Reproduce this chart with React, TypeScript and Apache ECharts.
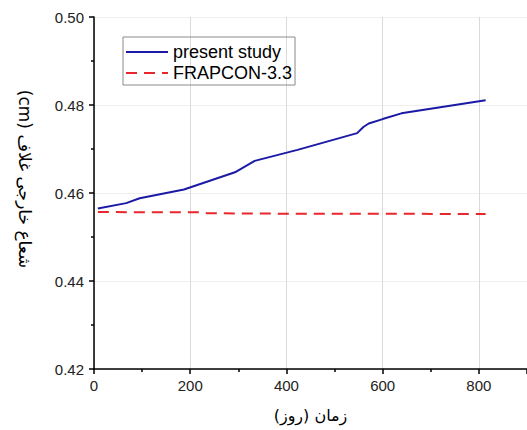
import React, { useEffect, useRef } from "react";
import * as echarts from "echarts";

// Day values and outer cladding radius (cm)
const presentDays = [8, 67, 95, 187, 293, 334, 423, 547, 560, 571, 600, 639, 814];
const presentRadius = [0.4565, 0.4577, 0.4588, 0.4608, 0.4647, 0.4673, 0.4698, 0.4736, 0.4750, 0.4758, 0.4768, 0.4781, 0.4811];

const frapconDays = [8, 100, 218, 235, 400, 600, 814];
const frapconRadius = [0.4557, 0.4556, 0.4556, 0.4554, 0.4553, 0.4553, 0.4552];

const seriesNames = ["present study", "FRAPCON-3.3"];
const xAxisTitle = "زمان (روز)\u200F";
const yAxisTitle = "(cm) شعاع خارجی غلاف";

const FONT = "Arial, 'Liberation Sans', sans-serif";

export default function App() {
  const ref = useRef<HTMLDivElement>(null);
  useEffect(() => {
    if (!ref.current) return;
    const chart = echarts.init(ref.current, undefined, { renderer: "svg" });
    chart.setOption({
      animation: false,
      backgroundColor: "#ffffff",
      grid: { left: 94, top: 17, bottom: 61, right: -5 },
      legend: {
        left: 123,
        top: 37,
        orient: "vertical",
        itemWidth: 42,
        itemHeight: 14,
        itemGap: 3,
        padding: [6, 3, 3, 2],
        borderColor: "#8a8a8a",
        borderWidth: 1,
        itemStyle: { opacity: 0 },
        textStyle: { fontSize: 18, color: "#000", fontFamily: FONT },
        data: seriesNames,
      },
      xAxis: {
        type: "value",
        min: 0,
        max: 900,
        interval: 200,
        name: xAxisTitle,
        nameLocation: "middle",
        nameGap: 38,
        nameTextStyle: { fontSize: 16, color: "#000", fontFamily: "'DejaVu Sans', serif" },
        axisLine: { show: true, onZero: false, lineStyle: { color: "#000", width: 1.5 } },
        axisTick: { show: true, inside: false, length: 5, lineStyle: { color: "#000", width: 1.5 } },
        minorTick: { show: true, splitNumber: 2, length: 3, lineStyle: { color: "#000", width: 1.5 } },
        axisLabel: {
          margin: 9,
          fontSize: 15,
          color: "#222",
          fontFamily: FONT,
          showMaxLabel: false,
          formatter: (v: number) => (v % 200 === 0 ? String(v) : ""),
        },
        splitLine: { show: true, lineStyle: { color: "#d9d9d9", width: 1 } },
      },
      yAxis: {
        type: "value",
        min: 0.42,
        max: 0.5,
        interval: 0.02,
        axisLine: { show: true, onZero: false, lineStyle: { color: "#000", width: 1.5 } },
        axisTick: { show: true, inside: false, length: 5, lineStyle: { color: "#000", width: 1.5 } },
        minorTick: { show: true, splitNumber: 2, length: 3, lineStyle: { color: "#000", width: 1.5 } },
        axisLabel: {
          margin: 10,
          fontSize: 15,
          color: "#222",
          fontFamily: FONT,
          formatter: (v: number) => v.toFixed(2),
        },
        splitLine: { show: true, lineStyle: { color: "#efefef", width: 1 } },
      },
      graphic: [
        {
          type: "text",
          x: 25,
          y: 179,
          rotation: -Math.PI / 2,
          style: {
            text: yAxisTitle,
            fontSize: 17,
            fill: "#000",
            fontFamily: "'DejaVu Sans', serif",
            align: "center",
            verticalAlign: "middle",
          },
        },
      ],
      series: [
        {
          name: seriesNames[0],
          type: "line",
          symbol: "none",
          data: presentDays.map((d, i) => [d, presentRadius[i]]),
          lineStyle: { color: "#1a1aa6", width: 2 },
          itemStyle: { color: "#1a1aa6" },
        },
        {
          name: seriesNames[1],
          type: "line",
          symbol: "none",
          data: frapconDays.map((d, i) => [d, frapconRadius[i]]),
          lineStyle: { color: "#e8262c", width: 2, type: [11, 7] },
          itemStyle: { color: "#e8262c" },
        },
      ],
    });
    return () => chart.dispose();
  }, []);
  return <div ref={ref} style={{ width: 527, height: 430, position: "absolute", left: 0, top: 0 }} />;
}
